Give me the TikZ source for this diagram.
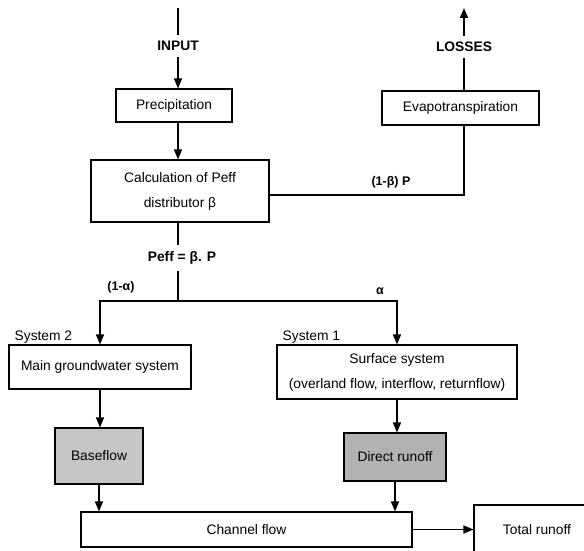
\documentclass[tikz,border=0pt]{standalone}
\usepackage{fontspec}
\setmainfont{Liberation Sans}
\usetikzlibrary{arrows.meta}
\begin{document}
\begin{tikzpicture}[x=1pt,y=-1pt,
  every node/.style={font=\fontsize{13.8}{16}\selectfont},
  box/.style={draw, line width=1.1pt, inner sep=0pt, align=center},
  shadedbox/.style={box, fill=gray!45},
  flow/.style={line width=1.5pt},
  arr/.style={flow, -{Triangle[length=10pt,width=8pt]}},
  lab/.style={font=\fontsize{13.8}{16}\selectfont\bfseries, inner sep=6pt},
  smalllab/.style={font=\fontsize{12.5}{14}\selectfont\bfseries, inner sep=1pt}]
\useasboundingbox (0,0) rectangle (584,551);
\clip (0,0) rectangle (584,551);
\coordinate (spine) at (178,0);
\coordinate (intop) at (178,8);
\coordinate (lostop) at (464,8);
\coordinate (br) at (178,301);
% top labels
\node[lab] (inp) at (178,46) {INPUT};
\node[lab] (los) at (464,47) {LOSSES};
% boxes
\node[box, minimum width=116pt, minimum height=33pt] (prec) at (174,105.5) {Precipitation};
\node[box, minimum width=157pt, minimum height=34pt] (evap) at (460.5,108) {Evapotranspiration};
\node[box, minimum width=178pt, minimum height=62pt] (calc) at (180,191) {Calculation of Peff\\[9pt]distributor β};
\node[lab] (peff) at (182,258) {Peff = β. P};
\node[smalllab] (bl) at (391,182) {(1-β) P};
\node[box, minimum width=182pt, minimum height=44pt] (gw) at (100,367) {Main groundwater system};
\node[box, minimum width=240pt, minimum height=54pt] (surf) at (397,372) {Surface system\\[9pt](overland flow, interflow, returnflow)};
\node[smalllab] (a1) at (121,287) {(1-α)};
\node[smalllab] (a2) at (380,291) {α};
\node[anchor=south west, inner sep=1pt] (s2) at ([xshift=5pt]gw.north west) {System 2};
\node[anchor=south west, inner sep=1pt] (s1) at ([xshift=5pt]surf.north west) {System 1};
\node[shadedbox, minimum width=88pt, minimum height=56pt] (base) at (99,456) {Baseflow};
\node[shadedbox, fill=gray!60, minimum width=102pt, minimum height=48pt] (dir) at (395,457) {Direct runoff};
\node[box, minimum width=331pt, minimum height=35pt] (chan) at (246.5,529.5) {Channel flow};
\node[box, minimum width=126pt, minimum height=50pt] (tot) at (537,530) {Total runoff};
% connectors
\draw[flow] (intop) -- (inp.north);
\draw[arr] (inp.south) -- (prec.north -| inp);
\draw[arr] (prec.south -| spine) -- (calc.north -| spine);
\draw[flow] (evap.north -| los) -- (los.south);
\draw[arr] (los.north) -- (lostop);
\draw[flow] ([yshift=-4pt]calc.east) -| (evap.south -| los);
\draw[flow] (calc.south -| spine) -- (peff.north -| spine);
\draw[flow] (peff.south -| spine) -- (br);
\draw[arr] (br) -| (gw.north);
\draw[arr] (br) -| (surf.north);
\draw[arr] (gw.south) -- (gw.south |- base.north);
\draw[arr] (base.south) -- (base.south |- chan.north);
\draw[arr] (surf.south) -- (surf.south |- dir.north);
\draw[arr] (dir.south) -- (dir.south |- chan.north);
\draw[arr] (chan.east) -- (chan.east -| tot.west);
\end{tikzpicture}
\end{document}
